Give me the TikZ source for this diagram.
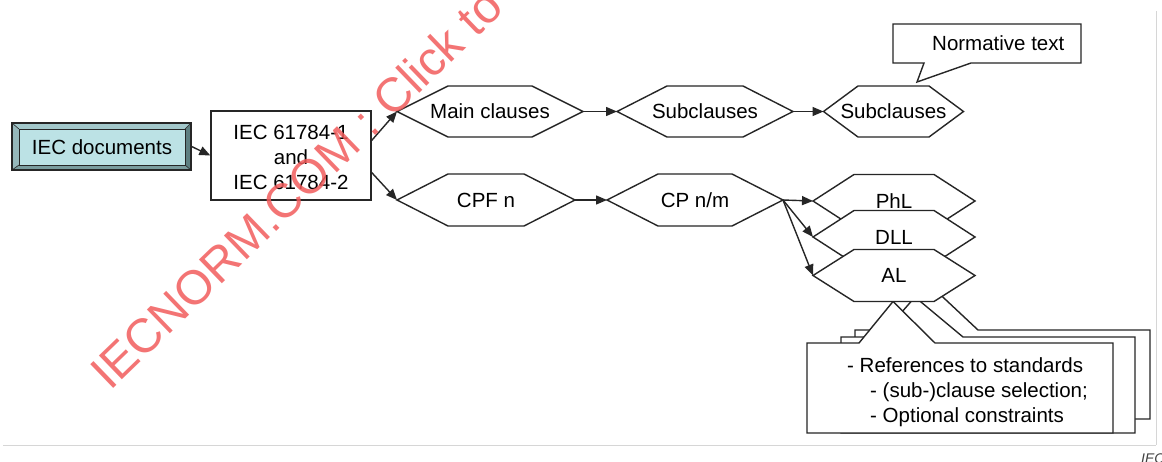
\documentclass[tikz,border=0pt]{standalone}
\usepackage{fontspec}
\setmainfont{Liberation Sans}
\usetikzlibrary{arrows.meta}
\definecolor{ln}{HTML}{262626}
\definecolor{face}{HTML}{BCE2E5}
\definecolor{bevL}{HTML}{A3C8CB}
\definecolor{bevD}{HTML}{7A9C9E}
\definecolor{bevR}{HTML}{5E7F81}
\definecolor{wm}{HTML}{F25C5C}
\definecolor{framegray}{HTML}{D6D6D6}
\tikzset{
  hexline/.style={draw=ln, fill=white, line width=1.4pt, line join=miter},
  lbl/.style={font=\fontsize{20.5}{25}\selectfont, text=black, inner sep=0pt, text height=14.7pt, text depth=0pt},
  lblm/.style={font=\fontsize{20.5}{25}\selectfont, text=black, inner sep=0pt, align=center},
  arr/.style={draw=ln, line width=1.4pt, -{Triangle[length=11pt,width=9pt]}},
  callout/.style={draw=ln, fill=white, line width=1.4pt, line join=miter},
  bevel/.style={draw=ln, line width=0.6pt},
}
\newcommand{\hexnode}[7]{%
  \draw[hexline] (#2-#4-#5,#3) -- (#2-#4,#3-#6) -- (#2+#4,#3-#6) -- (#2+#4+#5,#3) -- (#2+#4,#3+#6) -- (#2-#4,#3+#6) -- cycle;
  \coordinate (#1-w) at (#2-#4-#5,#3);
  \coordinate (#1-e) at (#2+#4+#5,#3);
  \node[lbl] (#1) at (#2,#3) {#7};}
\begin{document}
\begin{tikzpicture}[x=1pt,y=-1pt]
\useasboundingbox (0,0) rectangle (1162,461);
\clip (0,0) rectangle (1162,461);
\fill[white] (0,0) rectangle (1162,461);
% frame
\draw[framegray, line width=1pt] (3,445) -- (1156,445);
\draw[framegray, line width=1pt] (1156,11) -- (1156,445);
\node[anchor=west, font=\itshape\fontsize{14}{16}\selectfont, text=black!75, inner sep=0pt] (ieclogo) at (1141,459) {IEC};
% IEC documents bevelled box
\fill[bevL] (12,123) -- (191,123) -- (185,129) -- (19,129) -- cycle;
\fill[bevL!92!black] (12,123) -- (19,129) -- (19,165) -- (12,170) -- cycle;
\fill[bevD] (12,170) -- (191,170) -- (185,165) -- (19,165) -- cycle;
\fill[bevR] (191,123) -- (191,170) -- (185,165) -- (185,129) -- cycle;
\fill[face] (19,129) rectangle (185,165);
\draw[bevel] (19,129) rectangle (185,165);
\draw[bevel] (12,123) -- (19,129) (191,123) -- (185,129) (12,170) -- (19,165) (191,170) -- (185,165);
\node[draw=ln, line width=1.3pt, minimum width=179pt, minimum height=47pt, inner sep=0pt] (docs) at (101.5,146.5) {};
\node[lbl] (docstxt) at (102,147) {IEC documents};
% IEC 61784 box
\node[draw=ln, line width=1.3pt, fill=white, minimum width=160pt, minimum height=89pt, inner sep=0pt] (std) at (291,155.5) {};
\node[lblm] (stdtxt) at (291,157) {IEC 61784-1\\and\\IEC 61784-2};
% upper row
\hexnode{main}{490}{111.5}{42}{51}{25.5}{Main clauses}
\hexnode{subA}{705}{111.5}{38}{50}{25.5}{Subclauses}
\hexnode{subB}{893.5}{111.5}{35.5}{34.5}{25.5}{Subclauses}
% normative text callout
\draw[callout] (893,24) -- (1081,24) -- (1081,63) -- (971,63) -- (917,82) -- (924,63) -- (893,63) -- cycle;
\node[lbl, anchor=west] (norm) at (932,43) {Normative text};
% lower row
\hexnode{cpf}{486}{200}{38}{51}{26}{CPF n}
\hexnode{cp}{695}{200}{37}{51}{26}{CP n/m}
% stacked callouts
\draw[callout] (855,330) -- (885,330) -- (930,285) -- (978,330) -- (1150,330) -- (1150,419) -- (855,419) -- cycle;
\draw[callout] (841,337) -- (880,337) -- (915,297) -- (963,337) -- (1135,337) -- (1135,433) -- (841,433) -- cycle;
\draw[callout] (807,343) -- (859,343) -- (893,301.5) -- (935,343) -- (1113,343) -- (1113,433) -- (807,433) -- cycle;
\node[lbl, anchor=west] (ref1) at (847,365) {- References to standards};
\node[lbl, anchor=west] (ref2) at (870,390) {- (sub-)clause selection;};
\node[lbl, anchor=west] (ref3) at (870,415) {- Optional constraints};
% layer hexagons
\hexnode{phl}{894}{201}{40}{41}{26.5}{PhL}
\hexnode{dll}{894}{237}{40}{41}{26.5}{DLL}
\hexnode{al}{894}{275.5}{40}{41}{26}{AL}
% connectors
\draw[arr] (docs.east) -- (std.west);
\draw[arr] ([yshift=15pt]std.east) -- (main-w);
\draw[arr] ([yshift=-17pt]std.east) -- (cpf-w);
\draw[arr] (main-e) -- (subA-w);
\draw[arr] (subA-e) -- (subB-w);
\draw[arr] (cpf-e) -- (cp-w);
\draw[arr] (cp-e) -- (phl-w);
\draw[arr] (cp-e) -- (dll-w);
\draw[arr] (cp-e) -- (al-w);
% watermark
\node[rotate=44, anchor=base west, text=wm, opacity=0.85, inner sep=0pt, font=\fontsize{48}{52}\selectfont] (wmark) at (110,392) {IECNORM.COM : Click to view the full PDF};
\end{tikzpicture}
\end{document}
